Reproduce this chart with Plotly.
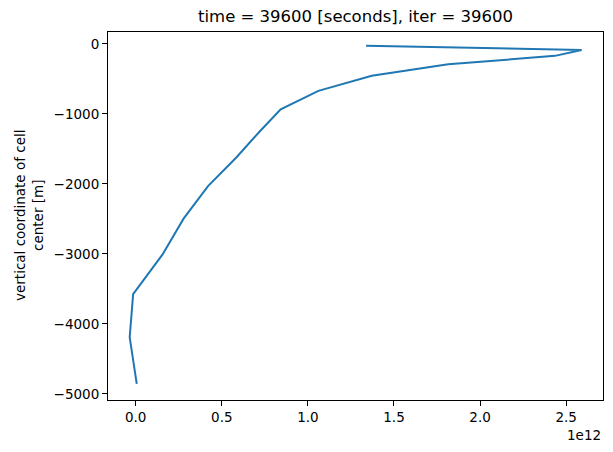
import plotly.graph_objects as go

# Data
depth_m = [-25, -85, -170, -290, -455, -670, -935, -1250, -1615, -2030,
           -2495, -3010, -3575, -4190, -4855]
value = [1.338e12, 2.59e12, 2.435e12, 1.815e12, 1.371e12, 1.061e12, 0.842e12,
         0.72e12, 0.587e12, 0.42e12, 0.278e12, 0.155e12, -0.015e12, -0.035e12,
         0.006e12]

x_tickvals = [0, 0.5e12, 1.0e12, 1.5e12, 2.0e12, 2.5e12]
x_ticktext = ["0.0", "0.5", "1.0", "1.5", "2.0", "2.5"]
y_tickvals = [0, -1000, -2000, -3000, -4000, -5000]
y_ticktext = ["0", "\u22121000", "\u22122000", "\u22123000", "\u22124000", "\u22125000"]

title_text = "time = 39600 [seconds], iter = 39600"
ylabel_text = "vertical coordinate of cell<br>center [m]"
offset_text = "1e12"

FONT = "DejaVu Sans"
W, H = 613, 452
L, R, T, B = 108, 10, 32, 52

fig = go.Figure()
fig.add_trace(go.Scatter(x=value, y=depth_m, mode="lines",
                         line=dict(color="#1f77b4", width=2),
                         showlegend=False, hoverinfo="skip"))

axis_common = dict(showgrid=False, zeroline=False, showline=True, linecolor="black",
                   linewidth=1.1, mirror=True, ticks="outside", ticklen=5,
                   tickwidth=1.1, tickcolor="black",
                   tickfont=dict(family=FONT, size=13.5, color="black"))

fig.update_layout(
    width=W, height=H,
    margin=dict(l=L, r=R, t=T, b=B),
    paper_bgcolor="white", plot_bgcolor="white",
    font=dict(family=FONT, color="black"),
    title=dict(text=title_text, x=(L + (W - R)) / 2 / W, xanchor="center",
               xref="container", yref="container", y=1 - 16 / H, yanchor="middle",
               font=dict(family=FONT, size=16.5, color="black")),
    xaxis=dict(range=[-0.161e12, 2.714e12], tickvals=x_tickvals, ticktext=x_ticktext,
               **axis_common),
    yaxis=dict(range=[-5086, 171], tickvals=y_tickvals, ticktext=y_ticktext,
               **axis_common),
)

pw = W - L - R
ph = H - T - B
fig.add_annotation(text=ylabel_text, textangle=-90, xref="paper", yref="paper",
                   x=(29 - L) / pw, y=0.5, xanchor="center", yanchor="middle",
                   showarrow=False, align="center",
                   font=dict(family=FONT, size=13.5, color="black"))
fig.add_annotation(text=offset_text, xref="paper", yref="paper",
                   x=1.0, y=-(435 - (H - B)) / ph, xanchor="right", yanchor="middle",
                   showarrow=False, font=dict(family=FONT, size=13.5, color="black"))

fig.write_html("out.html")
